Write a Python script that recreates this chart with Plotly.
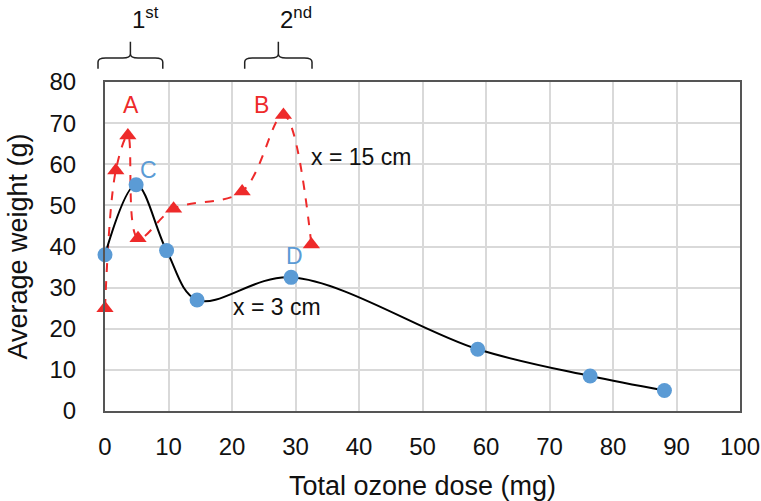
import plotly.graph_objects as go

# Data
dose_3cm = [0, 4.9, 9.7, 14.5, 29.3, 58.7, 76.4, 88.1]
weight_3cm = [38, 55, 39, 27, 32.5, 15, 8.5, 5]
dose_15cm = [0, 1.7, 3.6, 5.2, 10.8, 21.6, 28.1, 32.5]
weight_15cm = [25, 58.5, 67, 42, 49.2, 53.4, 72, 40.5]

x_ticks = list(range(0, 101, 10))
y_ticks = list(range(0, 81, 10))
XMIN, XMAX = 0, 100
YMIN, YMAX = 0, 80

FONT = "Arial, Liberation Sans, sans-serif"
RED = "#ee2a2a"
BLUE = "#5b9bd5"

fig = go.Figure()
fig.add_trace(go.Scatter(
    x=dose_15cm, y=weight_15cm, mode="lines+markers",
    line=dict(color=RED, width=2, dash="dash", shape="spline", smoothing=1),
    marker=dict(symbol="triangle-up", size=15, color=RED),
    cliponaxis=False, showlegend=False))
fig.add_trace(go.Scatter(
    x=dose_3cm, y=weight_3cm, mode="lines+markers",
    line=dict(color="black", width=2, shape="spline", smoothing=1),
    marker=dict(symbol="circle", size=15, color=BLUE),
    cliponaxis=False, showlegend=False))

def ann(x, y, text, color, size=23):
    fig.add_annotation(x=x, y=y, text=text, showarrow=False,
                       font=dict(family=FONT, size=size, color=color))

ann(4.1, 74.5, "A", RED)
ann(24.7, 74.5, "B", RED)
ann(6.8, 58.6, "C", BLUE)
ann(29.8, 37.7, "D", BLUE)
ann(40.3, 61.8, "x = 15 cm", "#111111")
ann(27.1, 25.3, "x = 3 cm", "#111111")

# Brackets (1st and 2nd ozone applications), in paper coords derived from data x
def px(xv):
    return (xv - XMIN) / (XMAX - XMIN)

def bracket(x0, x1, label):
    xc = (x0 + x1) / 2
    a, b, c = px(x0), px(x1), px(xc)
    r = 0.012
    ylo, ymid, ytop = 1.04, 1.073, 1.122
    path = (f"M {a},{ylo} L {a},{ymid - 0.012} Q {a},{ymid} {a + r},{ymid} "
            f"L {c - r},{ymid} Q {c},{ymid} {c},{ymid + 0.012} L {c},{ytop} "
            f"M {c},{ymid + 0.012} Q {c},{ymid} {c + r},{ymid} "
            f"L {b - r},{ymid} Q {b},{ymid} {b},{ymid - 0.012} L {b},{ylo}")
    fig.add_shape(type="path", path=path, xref="paper", yref="paper",
                  line=dict(color="#222222", width=1.5))
    fig.add_annotation(x=c, y=ytop + 0.02, xref="paper", yref="paper",
                       text=label, showarrow=False, yanchor="bottom",
                       font=dict(family=FONT, size=24, color="#111111"))

bracket(-1.1, 9.1, "1<sup>st</sup>")
bracket(22.0, 32.6, "2<sup>nd</sup>")

axis_common = dict(showgrid=True, gridcolor="#d9d9d9", gridwidth=1.5,
                   showline=True, linecolor="#555555", linewidth=2, mirror=True,
                   zeroline=False, ticks="", automargin=False,
                   tickfont=dict(family=FONT, size=24, color="#111111"))
fig.update_xaxes(range=[XMIN, XMAX], tickvals=x_ticks, ticklabelstandoff=13,
                 title=dict(text="Total ozone dose (mg)", standoff=22,
                            font=dict(family=FONT, size=27, color="#111111")),
                 **axis_common)
fig.update_yaxes(range=[YMIN, YMAX], tickvals=y_ticks, ticklabelstandoff=22,
                 title=dict(text="Average weight (g)", standoff=14,
                            font=dict(family=FONT, size=27, color="#111111")),
                 **axis_common)
fig.update_layout(width=761, height=501, plot_bgcolor="white", paper_bgcolor="white",
                  margin=dict(l=105, r=21, t=82, b=90))
fig.write_html("out.html")
